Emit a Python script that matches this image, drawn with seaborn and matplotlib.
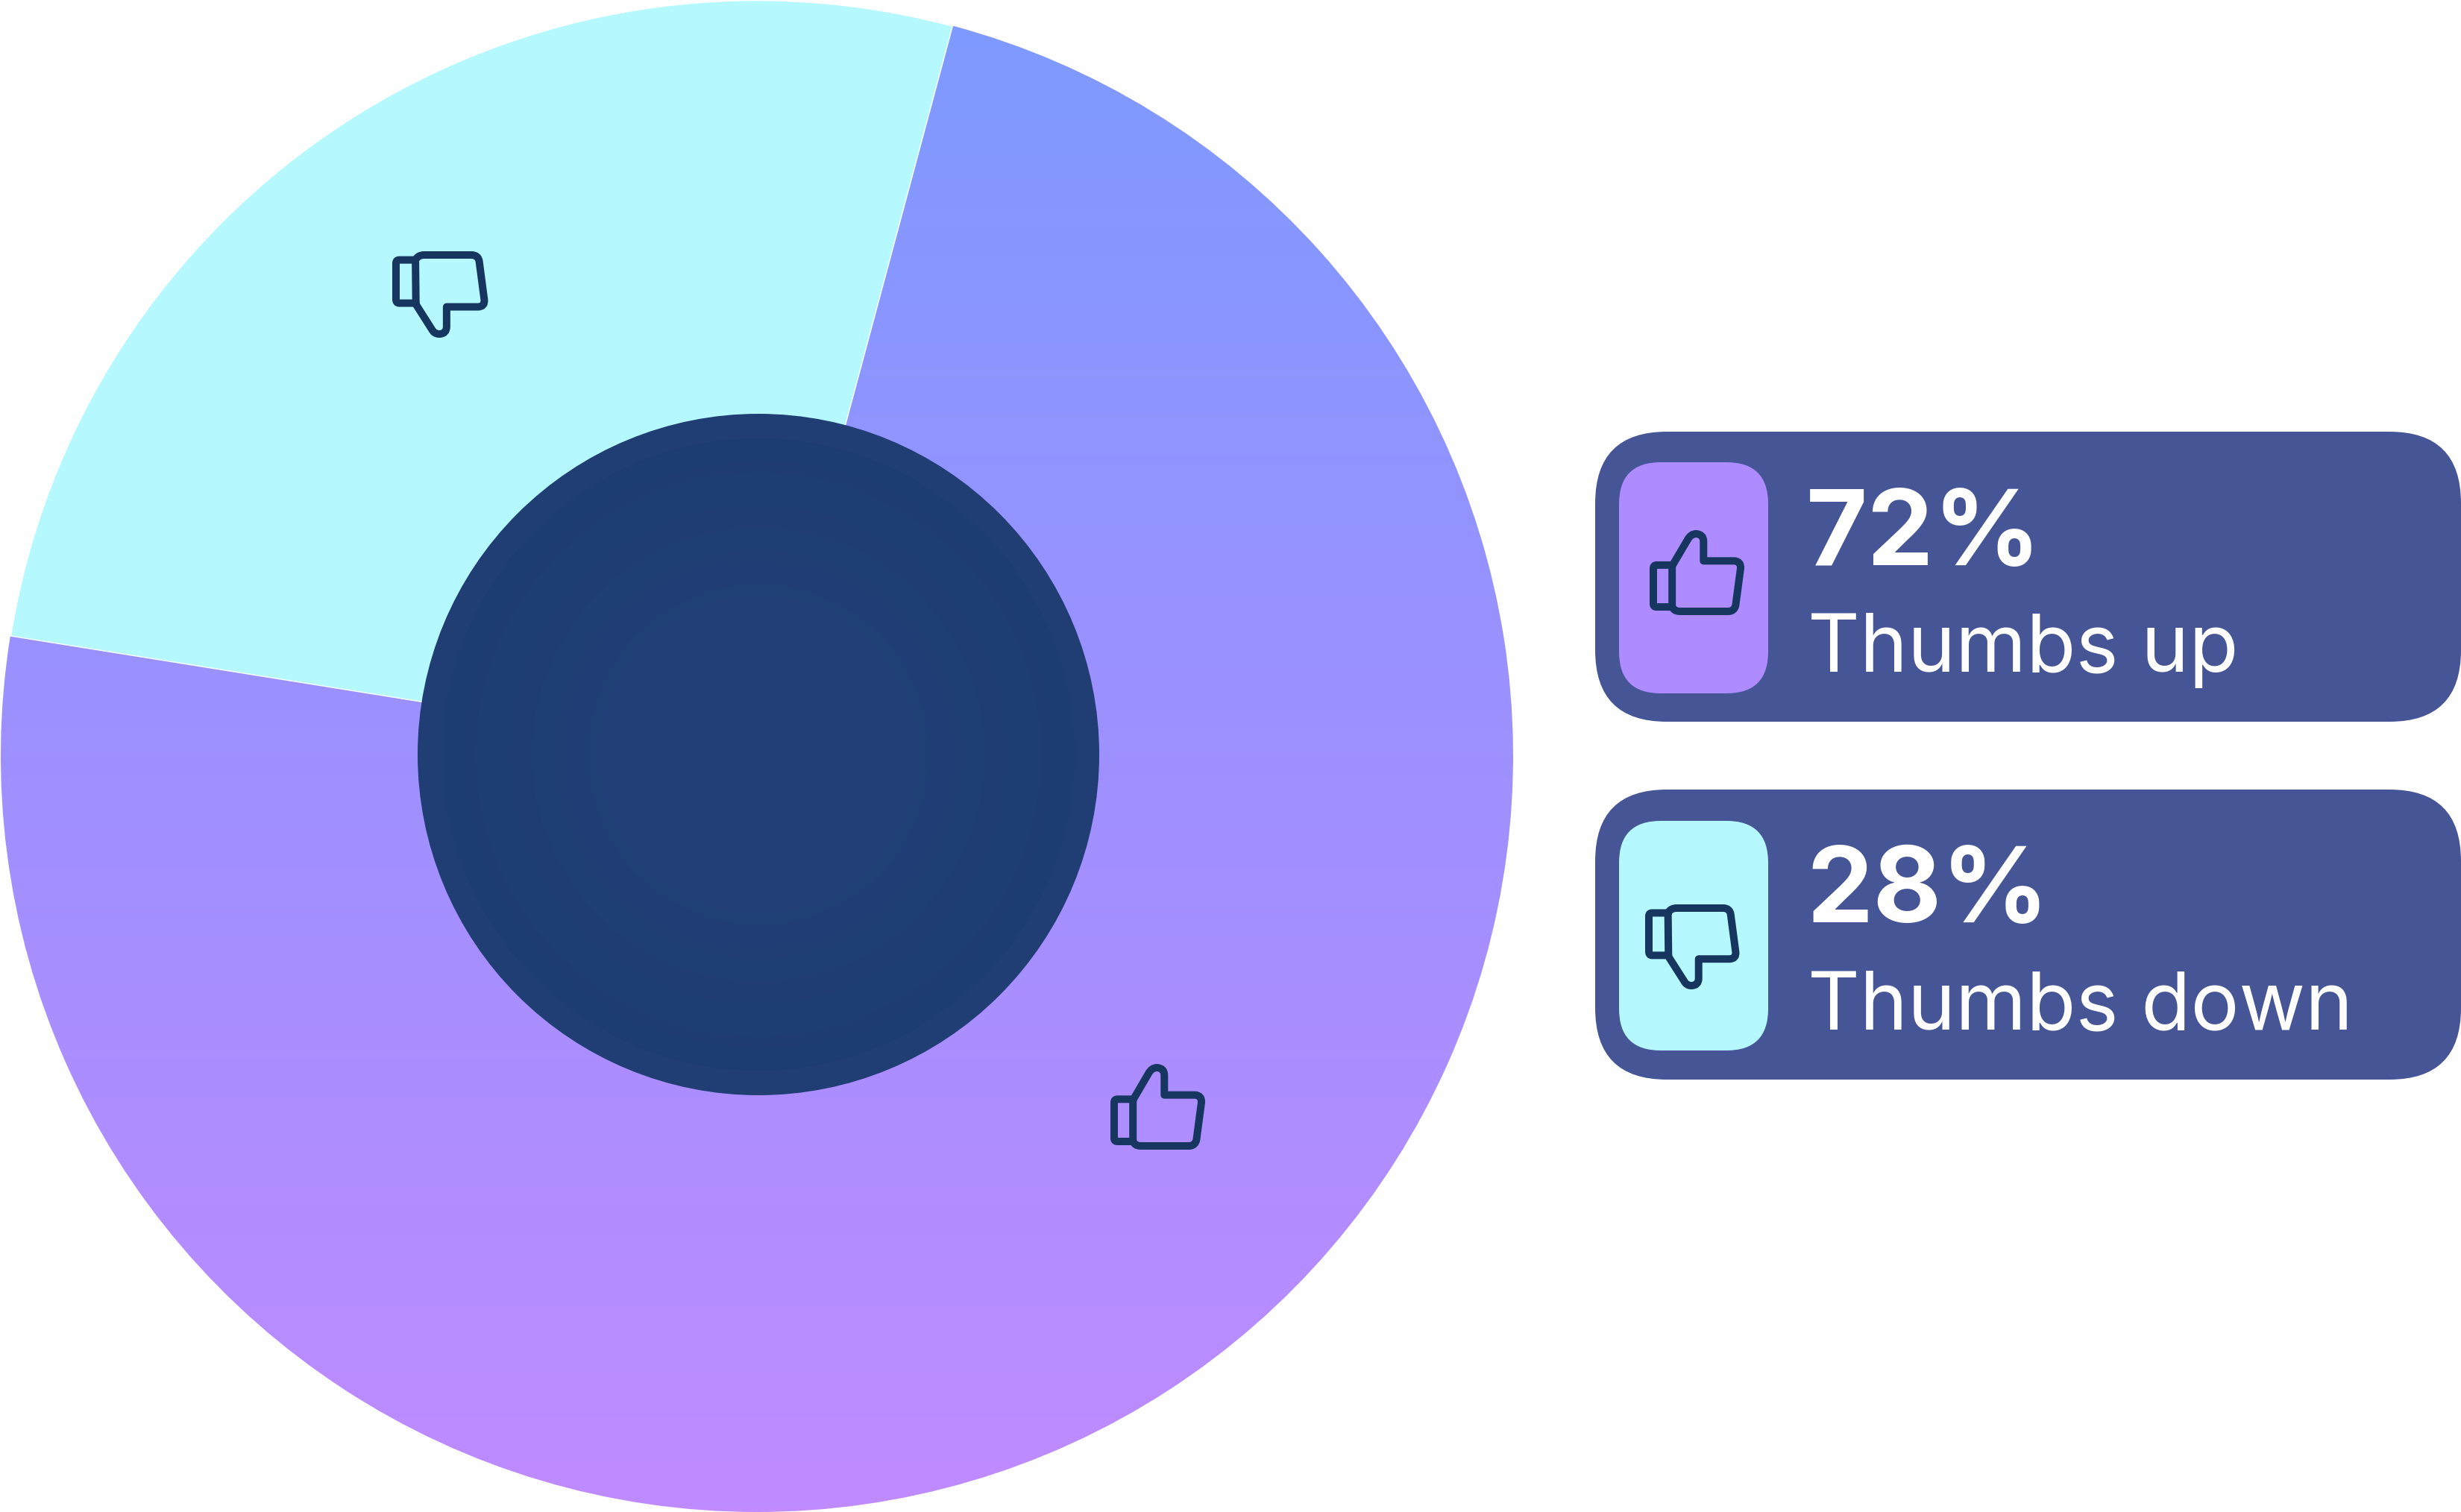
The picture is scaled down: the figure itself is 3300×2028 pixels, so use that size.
import numpy as np
import matplotlib
matplotlib.use("Agg")
import matplotlib.pyplot as plt
import seaborn as sns
from matplotlib.patches import Circle, FancyBboxPatch, PathPatch
from matplotlib.path import Path

# Slice sizes as measured on the picture, labels as printed on the cards
categories = ["Thumbs up", "Thumbs down"]
slice_shares = [73.35, 26.65]
share_labels = ["72%", "28%"]

gradient_colors = ["#7d9aff", "#9e90ff", "#bf8bff"]
down_color = "#b5f9ff"
up_card_color = "#ae8cff"
card_color = "#465596"
ink_color = "#16365f"

sns.set_theme(style="white")
plt.rcParams["font.family"] = ["Inter", "DejaVu Sans"]

W, H = 3300, 2028
DPI = 200
PX = 72 / DPI  # one pixel in points


def fy(py):
    """Picture y (downwards) to axes y (upwards)."""
    return H - py


# Icon outlines in their own little coordinate box, y downwards
M, L, Q = Path.MOVETO, Path.LINETO, Path.CURVE3
UP_HAND = [
    ((240, 282), M), ((300, 180), L), ((313, 155), Q), ((335, 155), Q),
    ((365, 157), Q), ((365, 185), Q), ((365, 265), L), ((490, 265), L),
    ((517, 267), Q), ((515, 295), Q), ((495, 445), L), ((490, 470), Q),
    ((465, 470), Q), ((270, 470), L), ((242, 470), Q), ((238, 448), Q),
    ((238, 282), L),
]
UP_CUFF = [
    ((238, 282), M), ((175, 282), L), ((162, 282), Q), ((162, 295), Q),
    ((162, 440), L), ((162, 452), Q), ((175, 452), Q), ((238, 452), L),
]
DOWN_HAND = [
    ((230, 145), M), ((240, 125), Q), ((265, 125), Q), ((455, 125), L),
    ((483, 125), Q), ((486, 152), Q), ((506, 305), L), ((510, 335), Q),
    ((480, 335), Q), ((355, 335), L), ((355, 415), L), ((355, 445), Q),
    ((325, 445), Q), ((305, 445), Q), ((295, 425), Q), ((232, 325), L),
    ((230, 145), L),
]
DOWN_CUFF = [
    ((230, 145), M), ((165, 145), L), ((152, 145), Q), ((152, 158), Q),
    ((152, 305), L), ((152, 320), Q), ((165, 320), Q), ((232, 320), L),
]


def draw_icon(ax, parts, box, target, lw=10):
    # box and target are (x0, y0, x1, y1), y downwards
    bx0, by0, bx1, by1 = box
    tx0, ty0, tx1, ty1 = target
    for part in parts:
        pts = np.array([p for p, _ in part], dtype=float)
        codes = [c for _, c in part]
        xs = tx0 + (pts[:, 0] - bx0) / (bx1 - bx0) * (tx1 - tx0)
        ys = ty0 + (pts[:, 1] - by0) / (by1 - by0) * (ty1 - ty0)
        ax.add_patch(PathPatch(
            Path(np.column_stack([xs, fy(ys)]), codes),
            facecolor="none", edgecolor=ink_color, lw=lw * PX,
            joinstyle="round", capstyle="round", zorder=6,
        ))


def draw_card(ax, y0, y1, inner_y0, inner_y1, inner_color):
    ax.add_patch(FancyBboxPatch(
        (2139 + 96, fy(y1) + 96), 3300 - 2139 - 192, y1 - y0 - 192,
        boxstyle="round,pad=96,rounding_size=96", fc=card_color, ec="none", zorder=3,
    ))
    ax.add_patch(FancyBboxPatch(
        (2171 + 56, fy(inner_y1) + 56), 200 - 112, inner_y1 - inner_y0 - 112,
        boxstyle="round,pad=56,rounding_size=56", fc=inner_color, ec="none", zorder=4,
    ))


fig = plt.figure(figsize=(W / DPI, H / DPI), dpi=DPI, facecolor="white")
ax = fig.add_axes([0, 0, 1, 1])

# Pie first, then the gradient is clipped to the bigger wedge
wedges, _ = ax.pie(
    slice_shares,
    colors=["none", down_color],
    startangle=170.9,
    center=(1015, fy(1014)),
    radius=1014,
    frame=True,
)
up_cmap = sns.blend_palette(gradient_colors, n_colors=256, as_cmap=True)
ramp = np.linspace(0, 1, 512).reshape(-1, 1)
gradient = ax.imshow(
    ramp, cmap=up_cmap, aspect="auto", origin="upper",
    extent=(0, 2030, fy(2028), fy(0)), zorder=1,
)
gradient.set_clip_path(wedges[0])

# Dark centre: plain outer ring, then a soft shift to a lighter middle
hole_xy = (1017, fy(1012))
ax.add_patch(Circle(hole_xy, 457, fc="#203e74", ec="none", zorder=2))
hole_radii = np.linspace(424, 200, 16)
hole_shades = sns.blend_palette(["#1d3c71", "#213f76"], n_colors=16)
for radius, color in zip(hole_radii, hole_shades):
    ax.add_patch(Circle(hole_xy, radius, fc=color, ec="none", zorder=2))

draw_card(ax, 579, 968, 620, 930, up_card_color)
draw_card(ax, 1059, 1448, 1101, 1409, down_color)

up_parts = [UP_HAND, UP_CUFF]
down_parts = [DOWN_HAND, DOWN_CUFF]
up_box = (162, 155, 515, 470)
down_box = (152, 125, 508, 445)

draw_icon(ax, up_parts, up_box, (1494, 1432, 1611, 1537))
draw_icon(ax, down_parts, down_box, (531, 342, 650, 448))
draw_icon(ax, up_parts, up_box, (2217, 716, 2334, 820))
draw_icon(ax, down_parts, down_box, (2211, 1218, 2328, 1322))

for label, name, y_big, y_small in zip(share_labels, categories, [758, 1237], [901, 1380]):
    ax.text(2422, fy(y_big), label, fontsize=51, fontweight="bold", color="white",
            ha="left", va="baseline", zorder=5)
    ax.text(2424, fy(y_small), name, fontsize=39, fontweight="normal", color="white",
            ha="left", va="baseline", zorder=5)

ax.set_xlim(0, W)
ax.set_ylim(0, H)
ax.set_aspect("auto")
ax.axis("off")

fig.savefig("out.png", dpi=DPI, facecolor="white")
plt.close(fig)
